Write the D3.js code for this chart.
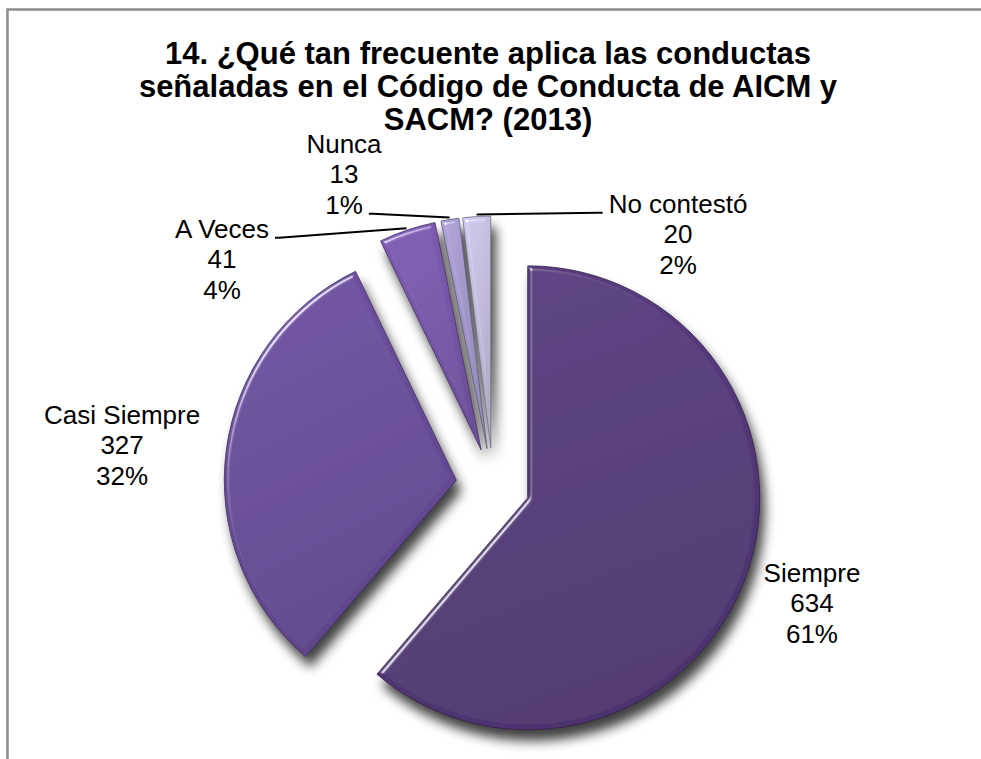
<!DOCTYPE html>
<html>
<head>
<meta charset="utf-8">
<style>
  body { margin: 0; background: #fff; }
  svg text { font-family: "Liberation Sans", Arial, sans-serif; fill: #000; }
</style>
</head>
<body>
<div id="chart"></div>
<script src="https://cdn.jsdelivr.net/npm/d3@7"></script>
<script>
// Values
var categories = ["Siempre", "Casi Siempre", "A Veces", "Nunca", "No contestó"];
var counts = [634, 327, 41, 13, 20];
var percents = ["61%", "32%", "4%", "1%", "2%"];
var titleLines = [
  "14. ¿Qué tan frecuente aplica las conductas",
  "señaladas en el Código de Conducta de AICM y",
  "SACM? (2013)"
];

// Styles
var colors = ["#543879", "#684b99", "#7656a9", "#a196c9", "#c2badb"];
var width = 981, height = 759;
var center = {x: 493, y: 485};
var radius = 232, explode = 37;
var labelSize = 26, labelStep = 30.5;

// where each label block sits (centre of the 3 lines)
// big slices: polar distance from the pie centre; small ones are moved aside with a leader line
var labelSpots = [
  {r: 340, dy: 0},
  {r: 374, dy: 8},
  {x: 222, y: 259, leader: 0, side: "left"},
  {x: 344, y: 174, leader: 2, side: "left"},
  {x: 678, y: 234, leader: 0, side: "right"}
];

var rows = categories.map(function (c, i) {
  return {name: c, value: counts[i], pct: percents[i], color: colors[i], spot: labelSpots[i]};
});

var svg = d3.select("#chart").append("svg")
  .attr("width", width).attr("height", height);

var defs = svg.append("defs");

// drop shadow under the pie
var sh = defs.append("filter").attr("id", "shadow")
  .attr("x", "-20%").attr("y", "-20%").attr("width", "150%").attr("height", "150%");
sh.append("feGaussianBlur").attr("in", "SourceAlpha").attr("stdDeviation", 6);
sh.append("feOffset").attr("dx", 5).attr("dy", 11);
sh.append("feComponentTransfer").append("feFuncA").attr("type", "linear").attr("slope", 0.75);

// soft bevel on each slice
var bv = defs.append("filter").attr("id", "bevel")
  .attr("x", "-5%").attr("y", "-5%").attr("width", "110%").attr("height", "110%");
bv.append("feGaussianBlur").attr("in", "SourceAlpha").attr("stdDeviation", 2).attr("result", "blur");
bv.append("feSpecularLighting").attr("in", "blur").attr("surfaceScale", 5)
  .attr("specularConstant", 1.1).attr("specularExponent", 28)
  .attr("lighting-color", "#ffffff").attr("result", "spec")
  .append("feDistantLight").attr("azimuth", 225).attr("elevation", 30);
bv.append("feComposite").attr("in", "spec").attr("in2", "SourceAlpha")
  .attr("operator", "in").attr("result", "specIn");
bv.append("feComposite").attr("in", "SourceGraphic").attr("in2", "specIn")
  .attr("operator", "arithmetic").attr("k1", 0).attr("k2", 1).attr("k3", 0.75).attr("k4", 0);

// vertical shading per slice
rows.forEach(function (d, i) {
  var g = defs.append("linearGradient").attr("id", "grad" + i)
    .attr("x1", 0).attr("y1", 0).attr("x2", 0.3).attr("y2", 1);
  g.append("stop").attr("offset", "0%").attr("stop-color", d3.color(d.color).brighter(0.2));
  g.append("stop").attr("offset", "100%").attr("stop-color", d3.color(d.color).darker(0.25));
});

// outer frame (right and bottom edges fall outside the picture)
svg.append("rect")
  .attr("x", 7.5).attr("y", 9.5).attr("width", 1000).attr("height", 800)
  .attr("fill", "none").attr("stroke", "#8c8c8c").attr("stroke-width", 2.5);

// title
svg.append("g").selectAll("text")
  .data(titleLines)
  .enter().append("text")
  .attr("x", 488)
  .attr("y", function (d, i) { return 64 + i * 33; })
  .attr("text-anchor", "middle")
  .style("font-size", "31px").style("font-weight", "bold")
  .text(function (d) { return d; });

var pie = d3.pie().sort(null).value(function (d) { return d.value; });
var arc = d3.arc().innerRadius(0).outerRadius(radius);
var arcs = pie(rows);

function mid(a) { return (a.startAngle + a.endAngle) / 2; }
function shift(a, dist) {
  var m = mid(a);
  return [Math.sin(m) * dist, -Math.cos(m) * dist];
}

var pieG = svg.append("g").attr("transform", "translate(" + center.x + "," + center.y + ")");

pieG.append("g").attr("filter", "url(#shadow)")
  .selectAll("path").data(arcs).enter().append("path")
  .attr("transform", function (a) { return "translate(" + shift(a, explode) + ")"; })
  .attr("d", arc).attr("fill", "#000");

pieG.append("g").selectAll("path").data(arcs).enter().append("path")
  .attr("transform", function (a) { return "translate(" + shift(a, explode) + ")"; })
  .attr("d", arc)
  .attr("fill", function (a, i) { return "url(#grad" + i + ")"; })
  .attr("stroke", function (a) { return d3.color(a.data.color).darker(1.4); })
  .attr("stroke-width", 0.8)
  .attr("filter", "url(#bevel)");

// labels
var labG = svg.append("g");
arcs.forEach(function (a) {
  var s = a.data.spot, cx, cy;
  if (s.r) {
    var p = shift(a, s.r);
    cx = center.x + p[0]; cy = center.y + p[1] + s.dy;
  } else {
    cx = s.x; cy = s.y;
  }
  var lines = [a.data.name, String(a.data.value), a.data.pct];
  var texts = lines.map(function (t, k) {
    return labG.append("text")
      .attr("x", cx)
      .attr("y", cy + (k - 1) * labelStep + labelSize * 0.36)
      .attr("text-anchor", "middle")
      .style("font-size", labelSize + "px")
      .text(t);
  });

  if (s.leader !== undefined) {
    var t = texts[s.leader];
    var w = t.node().getComputedTextLength();
    var by = +t.attr("y");
    var x0 = s.side === "left" ? cx + w / 2 + 6 : cx - w / 2 - 6;
    var tip = shift(a, explode + radius + 2);
    labG.append("path")
      .attr("d", d3.line()([[x0, by], [x0 + (s.side === "left" ? 4 : -4), by],
        [center.x + tip[0], center.y + tip[1]]]))
      .attr("fill", "none").attr("stroke", "#000").attr("stroke-width", 2);
  }
});
</script>
</body>
</html>
